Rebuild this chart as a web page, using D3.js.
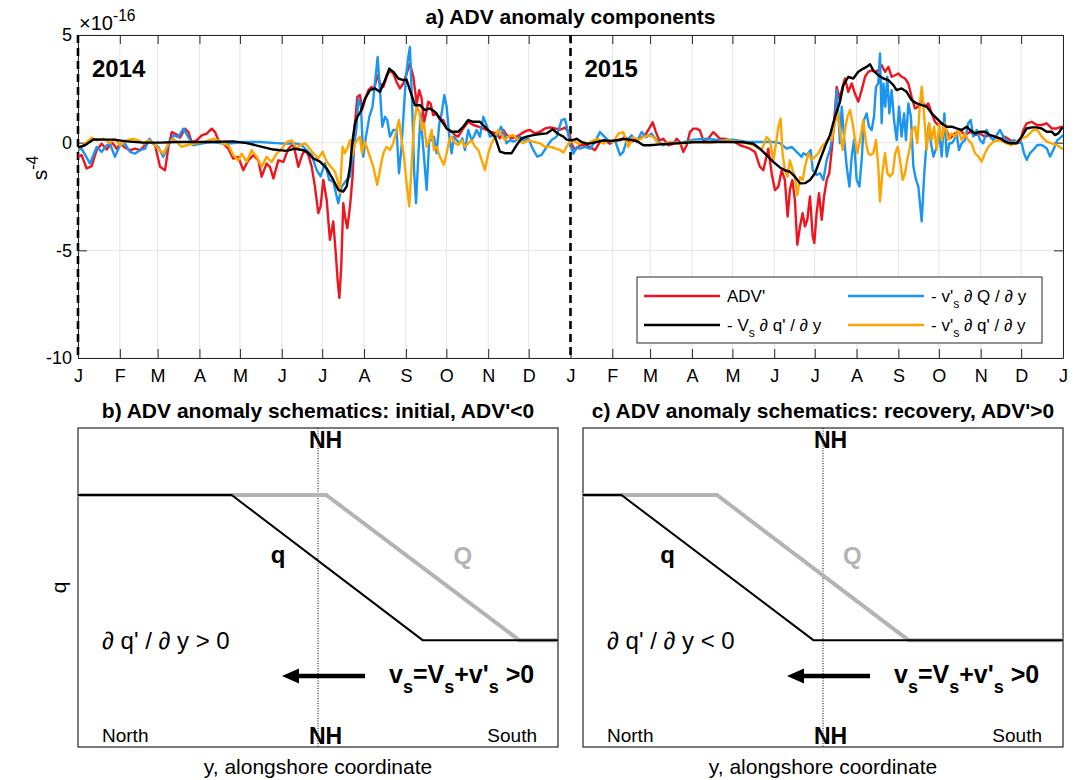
<!DOCTYPE html>
<html>
<head>
<meta charset="utf-8">
<script src="https://d3js.org/d3.v7.min.js"></script>
<style>
  body { margin: 0; background: #fff; }
  svg text { font-family: "Liberation Sans", Arial, Helvetica, sans-serif; fill: #000; white-space: pre; }
</style>
</head>
<body>
<div id="fig"></div>
<script>
// ---- data: [day since 1 Jan 2014, value in 1e-16 s^-4] ----
var advPrime = [[0,-0.66],[2.7,-0.58],[6.4,-1.2],[10.1,-1.09],[13.8,-0.35],[17.5,-0.05],[21.3,-0.32],[25,0.03],[28.7,-0.28],[31.2,-0.05],[34.9,-0.23],[38.6,-0.35],[42.3,-0.28],[46,-0.35],[49.7,-0.12],[53.4,0.11],[57.1,-0.12],[60.8,-1.12],[64.5,-1.28],[67,-0.2],[69.5,0.49],[73.2,0.38],[75.6,0.23],[79.3,0.65],[81.8,0.49],[84.3,0.03],[88,0.11],[91.7,0.34],[95.4,0.42],[99.1,0.65],[101.6,0.49],[104,0.11],[107.7,-0.05],[111.4,-0.28],[115.1,-0.74],[118.8,-0.66],[122.5,-1.28],[126.2,-0.82],[130,-0.58],[133.7,-0.82],[136.1,-1.58],[139.8,-0.97],[142.3,-1.12],[144.8,-1.66],[148.5,-0.82],[152.2,-0.89],[155.9,-0.28],[159.6,-0.05],[163.3,-1.12],[166.2,-0.55],[168.2,-0.34],[170.7,-0.57],[173.2,-1.11],[175.6,-2.04],[178.1,-3.27],[179.8,-2.96],[181.8,-1.73],[184.3,-2.65],[186.7,-4.51],[189.2,-3.66],[191.2,-5.28],[192.4,-6.36],[193.7,-7.21],[195.1,-5.74],[196.6,-2.81],[197.9,-3.43],[199.6,-3.97],[201.6,-2.96],[203.5,-1.57],[205.3,0.9],[207,2.13],[209,2.21],[210.5,1.51],[212.7,1.98],[215.2,2.44],[217.6,2.59],[219.3,2.44],[221.8,3.13],[223.8,2.75],[226.3,2.59],[228.7,3.06],[231.2,3.36],[233.7,3.21],[236.1,2.82],[238.6,2.52],[241.1,2.75],[243.5,3.21],[246,3.67],[248.5,3.06],[251,1.82],[252.9,2.44],[254.7,2.05],[256.4,0.9],[258.4,1.51],[259.6,1.9],[261.3,1.82],[263.3,1.28],[265.8,1.36],[268.2,1.05],[270.7,1.05],[273.2,0.66],[276.9,0.51],[279.4,0.35],[281.8,0.28],[285.5,0.66],[289.2,0.97],[293,0.82],[296.7,0.74],[300.4,0.66],[305.3,0.51],[310.3,0.43],[312.7,0.2],[315.2,0.59],[317.7,0.35],[321.4,0.2],[325.1,0.28],[328.8,0.43],[332.5,0.56],[335,0.59],[338.7,0.43],[342.4,0.51],[346.1,0.66],[349.8,0.71],[353.5,0.66],[357.2,0.6],[360.9,0.7],[364.1,0.45],[365.8,-0.05],[368.3,-0.35],[372,-0.12],[375.7,-0.12],[379.4,-0.2],[383.1,-0.35],[386.8,0.03],[390.5,0.11],[394.2,-0.05],[398,0.11],[401.7,0.11],[405.4,0.26],[409.1,0.03],[412.8,0.11],[416.5,0.18],[420.2,0.34],[423.9,0.72],[425.9,0.95],[428.3,0.49],[430.8,0.11],[433.8,0.18],[437.5,-0.12],[441.2,-0.05],[443.7,0.18],[446.1,0.03],[448.6,-0.43],[451.1,-0.12],[453.5,0.49],[456,0.65],[458.5,0.65],[460.9,0.57],[463.4,0.11],[467.1,0.18],[470.8,0.49],[473.3,0.34],[475.8,0.18],[479.5,0.18],[483.2,0.11],[486.9,0.03],[490.6,-0.12],[494.3,-0.2],[498,-0.28],[501.7,-0.43],[505.4,-1.12],[507.9,-1.28],[509.9,-0.74],[511.6,-0.28],[514.1,-1.43],[516.5,-2.2],[519,-2.05],[521.5,-1.28],[523.9,-1.74],[525.9,-3.43],[527.6,-2.2],[529.4,-1.74],[531.3,-2.66],[533.1,-4.74],[535.1,-3.89],[537,-3.28],[538.8,-3.89],[540.5,-3.58],[542.5,-2.5],[544.5,-4.35],[545.7,-4.66],[547.4,-3.27],[549.2,-2.35],[551.2,-3.58],[552.9,-2.5],[554.9,-1.73],[556.8,-1.42],[558.6,-0.34],[560.3,0.9],[562.3,2.59],[564.2,2.05],[566,2.44],[568.4,2.98],[570.9,2.36],[573.4,2.75],[575.8,2.28],[578.3,1.9],[580.8,2.44],[583.3,3.06],[585.7,3.29],[588.2,3.36],[590.7,3.29],[593.1,3.36],[595.6,3.6],[598.1,3.29],[600.6,3.52],[603,3.06],[605.5,3.13],[608,3.21],[610.4,3.06],[612.9,2.98],[615.4,2.75],[617.8,2.13],[620.3,1.59],[622.8,1.67],[625.3,1.98],[627.7,1.67],[630.2,1.82],[632.7,1.36],[635.1,0.97],[637.6,0.82],[640.1,0.9],[642.5,0.74],[646.3,0.2],[650,0.43],[653.7,0.59],[657.4,0.35],[661.1,0.51],[664.8,0.35],[668.5,0.43],[672.2,0.28],[675.9,0.35],[679.6,0.28],[683.3,0.12],[687,0.28],[690.7,0.12],[694.4,-0.03],[698.1,0],[700.6,0.59],[703.1,0.9],[706.8,0.97],[710.5,0.82],[714.2,0.82],[717.9,0.9],[721.6,0.66],[725.3,0.66],[729,0.74],[730,0.7]];

// - Vs dq'/dy
var meanAdv = [[0,-0.23],[5.2,-0.12],[11.4,0.15],[18.8,0.14],[26.2,0.14],[36.1,0.06],[48.4,0],[60.8,0],[73.2,0.03],[85.5,0.03],[97.8,0.03],[115.1,0.06],[125,-0.02],[134.9,-0.17],[144.8,-0.32],[154.6,-0.38],[160.8,-0.28],[167,-0.35],[169.4,-0.42],[174.4,-0.73],[179.3,-0.88],[184.3,-1.19],[189.2,-1.73],[192.9,-2.19],[196.6,-2.27],[199.1,-2.04],[201.6,-1.11],[203.5,0.12],[205.3,0.9],[207,1.2],[209.5,1.44],[212.7,2.05],[216.4,2.44],[220.1,2.52],[223.8,2.36],[227.5,2.9],[230.7,3.44],[233.7,3.29],[237.4,2.98],[241.1,2.9],[243.5,2.93],[246,2.44],[249.7,1.74],[253.4,1.74],[257.1,1.51],[260.8,1.59],[264.5,1.44],[268.2,1.13],[273.2,0.66],[276.9,0.51],[281.8,0.51],[285.5,0.74],[289.2,1.05],[293,0.97],[297.9,0.97],[301.6,0.74],[305.3,0.51],[309,0.28],[312.7,-0.42],[316.4,-0.49],[321.4,-0.49],[325.1,-0.11],[328.8,0.2],[332.5,0.28],[337.4,0.35],[342.4,0.4],[347.3,0.43],[351.7,0.62],[356,0.4],[359.7,0.28],[362.1,0.14],[365.8,0.11],[369.5,0.18],[373.3,0.03],[377,-0.05],[380.7,-0.02],[384.4,0.03],[389.3,0.11],[394.2,0.08],[399.2,0.11],[404.1,0.17],[409.1,0.14],[414,0.08],[419,-0.12],[423.9,-0.12],[431.3,-0.08],[438.7,-0.05],[446.1,-0.02],[456,0.02],[468.4,0.03],[480.7,0.03],[493.1,0.02],[500.5,-0.05],[505.4,-0.28],[510.3,-0.58],[515.3,-0.89],[520.2,-1.15],[523.9,-1.28],[527.6,-1.35],[531.3,-1.58],[535.1,-1.89],[538.8,-1.88],[542.5,-1.73],[546.2,-1.42],[549.9,-0.8],[553.6,-0.19],[557.3,0.35],[561,1.2],[564.7,1.9],[567.2,2.67],[570.9,3.06],[574.6,2.98],[578.3,3.29],[582,3.44],[584.5,3.52],[587,3.64],[589.4,3.36],[593.1,3.13],[596.9,2.98],[600.6,2.9],[604.3,2.67],[606.7,2.44],[610.4,2.52],[614.1,2.36],[617.8,1.98],[621.6,1.82],[625.3,1.74],[629,1.67],[632.7,1.36],[636.4,1.13],[640.1,0.9],[643.8,0.74],[647.5,0.74],[651.2,0.66],[654.9,0.59],[658.6,0.74],[661.1,0.59],[664.8,0.43],[668.5,0.51],[672.2,0.51],[675.9,0.35],[679.6,0.28],[683.3,0.2],[687,0.05],[690.7,-0.03],[695.7,-0.03],[699.4,0.28],[703.1,0.66],[706.8,0.71],[710.5,0.71],[714.2,0.66],[717.9,0.51],[721.6,0.51],[724.1,0.35],[726.5,0.43],[729,0.66],[730,0.7]];

// - v's dQ/dy
var anomQ = [[0,-0.35],[2.7,-0.28],[8.9,-0.97],[13.8,-0.2],[17.5,-0.43],[21.3,-0.12],[23.7,-0.05],[27.4,-0.66],[31.1,-0.12],[34.8,-0.05],[38.5,-0.43],[42.2,-0.51],[46,-0.35],[49.7,-0.28],[52.9,0.18],[55.8,-0.05],[59.5,-0.2],[63.2,-0.66],[67,-0.12],[70.7,0.34],[74.4,0.26],[78.1,0.65],[81.8,0.26],[85.5,-0.12],[90.4,-0.05],[97.8,0.03],[110.2,-0.05],[122.5,0.03],[134.9,0.03],[147.2,-0.02],[154.6,-0.05],[159.6,-0.02],[164.5,-0.08],[167,-0.19],[169.4,-0.34],[173.1,-0.57],[176.9,-1.27],[179.8,-1.57],[183,-0.96],[186.2,-1.73],[189.2,-1.81],[192.9,-2.81],[195.4,-2.04],[199.1,-1.73],[201.6,-1.57],[204,-0.49],[206.5,0.74],[207.7,2.05],[209.7,1.67],[211.4,-0.65],[213.4,0.28],[215.9,1.2],[218.3,1.67],[220.3,2.9],[222.1,3.98],[223.8,2.44],[225.5,0.74],[227.5,1.2],[229.2,1.05],[231.2,0.28],[233.7,0.59],[236.1,0.59],[237.9,-1.42],[239.8,-0.19],[241.6,1.67],[243.1,3.06],[244.8,3.98],[246,4.44],[247.7,1.67],[249.2,-1.42],[250.5,-2.81],[252.2,-0.65],[253.9,1.36],[255.4,0.12],[256.6,-0.8],[258.4,-2.19],[260.3,0.12],[262.1,0.12],[263.8,0.28],[265.8,-0.49],[267.8,0.9],[269.5,1.36],[271.5,2.21],[273.2,1.67],[275.2,0.28],[276.9,-0.49],[278.6,0.28],[280.6,0.12],[282.6,-0.03],[284.8,0.2],[286.8,-0.34],[289.2,0.59],[291.7,0.12],[293.4,0.28],[295.4,0.59],[297.9,0.28],[300.4,1.2],[302.8,0.82],[305.3,0.28],[307.8,0.35],[310.2,0.28],[313.5,0.74],[315.7,0.43],[317.6,-0.03],[320.1,0.12],[322.6,0.05],[325.1,0.12],[327.5,0.28],[330,0.12],[333.7,0.2],[337.4,-0.34],[340.4,-0.65],[343.6,-0.57],[347.3,-0.19],[351,0.12],[354.7,0.28],[358.4,1.05],[360.9,1.1],[362.1,0.8],[364.6,-0.05],[367.1,-0.51],[369.6,-0.2],[372,-0.28],[375.7,-0.2],[379.4,-0.28],[383.1,0.03],[386.8,0.49],[390.5,0.26],[394.3,0.03],[398,0.11],[401.7,-0.58],[404.1,-0.43],[406.6,0.11],[410.3,0.34],[414,0.03],[417.7,0.49],[421.4,0.26],[425.1,0.42],[428.8,0.11],[433.8,-0.12],[438.7,0.03],[446.1,-0.02],[456,0.14],[465.9,0.18],[475.8,0.11],[485.6,0.14],[495.5,0.03],[505.4,0.03],[515.3,0.03],[520.2,-0.02],[525.2,-0.28],[528.9,-0.2],[532.6,-0.43],[536.3,-0.66],[537.6,-0.49],[540,-0.57],[543,-0.34],[544.5,-1.27],[547.4,-1.5],[549.9,-1.42],[552.4,-1.73],[554.9,-0.8],[557.3,-0.34],[559.1,0.28],[560.8,0.9],[562.3,2.44],[563.5,1.36],[564.7,-0.03],[566,1.67],[567.7,0.28],[569.7,-1.11],[571.7,-2.04],[573.4,-0.65],[575.1,0.12],[577.1,-1.73],[579.1,-2.04],[580.8,-0.8],[582.5,1.05],[584.5,1.36],[586.2,0.74],[588.2,0.59],[589.9,1.2],[591.4,2.59],[593.1,2.75],[594.4,4.14],[595.6,0.9],[596.9,2.75],[598.3,1.67],[599.8,3.06],[601.3,1.36],[603,2.44],[604.8,1.05],[606.7,0.12],[608.5,1.67],[610.4,0.28],[612.2,1.36],[613.6,0.12],[615.4,1.82],[617.3,1.2],[619.1,-1.11],[621.1,-1.73],[622.8,-2.04],[625.3,-3.66],[627.2,-1.42],[629,0.12],[630.7,0.9],[632.2,-0.03],[633.9,-0.65],[636.4,-0.19],[638.3,0.43],[640.1,-0.65],[642.1,1.36],[643.8,-0.65],[645.8,-0.03],[647.5,-0.03],[649.2,0.12],[651.2,0.43],[652.9,-0.34],[654.9,-0.03],[657.4,0.12],[659.8,0.9],[661.6,1.05],[663.5,0.28],[666,0.59],[668.5,0.12],[670.9,-0.03],[673.4,0.59],[675.9,0.28],[678.4,0.12],[680.8,0.35],[683.3,0.59],[685.8,0.28],[688.2,0.12],[690.7,-0.03],[693.2,0.12],[696.9,0.05],[699.4,-0.03],[701.1,-0.49],[703.1,-0.8],[705.5,-0.49],[708,-0.34],[711,-0.11],[714.2,-0.11],[717.9,-0.26],[720.4,-0.65],[722.8,-0.34],[725.8,0.12],[729,0.28],[730,0.35]];

// - v's dq'/dy
var anomq = [[0,-0.28],[4,-0.12],[10.1,0.23],[13.8,0.11],[18.8,0.18],[23.7,-0.02],[27.4,0.18],[31.1,-0.12],[36.1,0.11],[41,0.18],[44.7,0.11],[48.4,-0.05],[52.1,0.11],[55.8,-0.02],[59.5,-0.28],[63.2,-0.51],[67,-0.05],[70.7,0.18],[74.4,-0.05],[76.8,-0.2],[80.5,-0.12],[85.5,-0.05],[92.9,0.03],[100.3,0.18],[104,0.11],[107.7,-0.05],[111.4,-0.12],[115.1,-0.58],[118.8,-0.82],[121.3,-0.51],[125,-0.89],[128.7,-0.35],[132.4,-0.66],[136.1,-1.12],[139.8,-0.66],[143.5,-0.89],[147.2,-0.51],[151,-0.28],[154.7,0.03],[158.4,0.11],[162,-0.28],[165,-0.1],[168.2,-0.03],[170.7,-0.19],[174.4,-0.49],[178.1,-0.73],[181.3,-0.42],[184.3,-0.88],[187.2,-1.11],[190.4,-1.34],[192.9,-1.88],[194.1,-2.35],[196.1,-0.19],[197.8,-0.49],[199.6,-0.26],[201.6,0.12],[203.5,-0.57],[205.3,-0.03],[207,0.12],[209,0.28],[210.4,-0.49],[212.2,0.05],[213.9,-0.19],[216.4,-0.65],[218.8,-1.11],[221.8,-1.96],[223.8,-1.27],[226.3,-0.49],[228.7,-0.19],[231.2,-0.34],[233.7,-0.03],[236.1,0.59],[237.9,1.05],[239.8,0.12],[241.6,-0.65],[243.5,-1.88],[245.5,-2.96],[247.2,-1.11],[249,0.9],[251,1.67],[252.9,1.44],[254.7,0.59],[256.4,0.9],[258.4,-0.19],[260.3,0.12],[262.1,0.59],[263.8,-0.34],[265.8,-0.19],[268.2,-0.65],[271.2,-1.03],[273.2,-0.49],[275.2,0.12],[276.9,0.28],[279.4,-0.03],[281.8,-0.11],[284.3,0.12],[286.8,-0.19],[289.2,-0.03],[291.7,0.12],[294.2,-0.19],[296.7,-0.34],[299.1,-0.8],[301.6,-1.27],[304.1,-0.49],[306.5,-0.03],[309,0.28],[311.5,0.59],[314,0.35],[316.4,0.12],[318.9,0.28],[322.6,0.35],[326.3,0.12],[330,-0.03],[333.7,0.12],[337.4,0.05],[342.4,-0.03],[346.1,-0.19],[349.8,-0.19],[353.5,-0.26],[357.2,-0.34],[359.7,-0.46],[362.1,-0.19],[363.4,-0.05],[367.1,0.11],[370.8,-0.05],[374.5,0.03],[378.2,-0.05],[381.9,0.11],[385.6,0.18],[389.3,-0.05],[393,0.11],[396.7,0.03],[400.4,0.42],[404.1,0.49],[407.8,-0.2],[411.5,0.26],[415.3,0.11],[419,0.26],[422.7,0.34],[426.4,0.26],[430.1,-0.05],[433.8,-0.05],[438.7,0.03],[446.1,-0.05],[456,0.06],[468.4,-0.02],[480.7,0.11],[490.6,0.03],[498,-0.05],[502.9,-0.2],[506.6,-0.35],[510.3,0.26],[512.8,0.11],[515.3,-0.82],[517.3,-0.05],[519,0.72],[520.7,1.11],[522.2,-0.51],[523.9,-1.28],[525.9,-1.58],[527.6,-0.82],[529.6,-1.28],[531.3,-1.58],[533.1,-2.43],[535.1,-1.6],[537.1,-1.73],[538.8,-1.11],[541.3,-0.49],[543.7,-0.8],[546.2,-0.65],[548.7,-0.49],[551.2,-0.19],[553.6,-0.03],[556.1,0.2],[558.6,0.12],[561,0.9],[562.8,1.51],[564.7,0.59],[566.7,-0.34],[568.4,0.59],[570.2,1.2],[572.2,1.51],[574.1,0.9],[575.9,0.12],[577.6,-0.49],[579.6,0.12],[582,1.05],[584,-0.03],[585.7,-0.49],[587.5,-0.57],[589.4,-0.49],[591.4,0.12],[593.1,-1.11],[594.4,-2.73],[596.1,-1.42],[598.1,-0.49],[599.8,-1.42],[601.8,-1.57],[603.8,-1.42],[605.7,-0.49],[607.5,-0.19],[609.2,-0.8],[611.2,-1.73],[612.9,-1.42],[614.6,-0.8],[616.6,-0.19],[618.3,0.59],[620.3,0.74],[622,-0.03],[624,1.82],[625.3,2.59],[627,1.36],[629,-0.34],[630.9,0.9],[632.7,0.12],[634.4,0.74],[636.4,-0.34],[638.3,0.9],[640.1,0.12],[642.5,0.9],[645,0.12],[647.5,0.43],[650,0.28],[652.4,0.59],[654.9,0.12],[657.4,0.43],[659.8,0.12],[662.3,-0.03],[664.8,-0.49],[667.3,-0.65],[669.7,-0.88],[672.2,-0.49],[674.7,-0.19],[678.4,0.05],[683.3,0.12],[688.2,-0.03],[691.9,-0.11],[695.7,0.05],[699.4,0.2],[703.1,0.28],[705.5,0.43],[708,0.59],[711,0.59],[714.2,0.28],[717.9,0.05],[721.6,-0.03],[725.3,-0.11],[729,-0.26],[730,-0.3]];

var monthLetters = ["J","F","M","A","M","J","J","A","S","O","N","D"];
var yTicks = [-10, -5, 0, 5];
var yearStarts = [0, 365];          // day offsets of the dashed year lines
var yearLabels = ["2014", "2015"];

// schematic profiles (x as fraction of the alongshore axis)
var qLevels = [0.79, 0.79, 0.335, 0.335];   // high, high, low, low
var qInitialX  = [0, 0.32, 0.718, 1];
var QInitialX  = [0, 0.517, 0.919, 1];
var qRecoverX  = [0, 0.08, 0.48, 1];
var QRecoverX  = [0, 0.279, 0.678, 1];

// ---- set up ----
var svgWidth = 1080, svgHeight = 780;
var axisColor = "#262626";

var svg = d3.select("#fig").append("svg")
    .attr("width", svgWidth)
    .attr("height", svgHeight);
svg.append("rect").attr("width", svgWidth).attr("height", svgHeight).attr("fill", "#fff");

// text with sub/superscripts: parts = [[text, "sub"|"sup"|null], ...]
function addRich(textSel, parts, size, small) {
    var off = 0;
    small = small || 0.72;
    parts.forEach(function(p) {
        var target = p[1] === "sub" ? size * 0.38 : (p[1] === "sup" ? -size * 0.45 : 0);
        textSel.append("tspan")
            .attr("dy", target - off)
            .attr("font-size", p[1] ? size * small : size)
            .text(p[0]);
        off = target;
    });
    return textSel;
}

// ================= panel a =================
var a = { left: 78, right: 1063, top: 35, bottom: 358 };
var t0 = Date.UTC(2014, 0, 1);
function toDate(d) { return new Date(t0 + d * 864e5); }

var xScale = d3.scaleUtc().domain([toDate(0), toDate(730)]).range([a.left, a.right]);
var yScale = d3.scaleLinear().domain([-10, 5]).range([a.bottom, a.top]);
var months = d3.utcMonth.range(toDate(0), toDate(731));

var chartGroup = svg.append("g");

// grid
chartGroup.append("g").selectAll("line")
    .data(months)
    .enter().append("line")
    .attr("x1", d => xScale(d)).attr("x2", d => xScale(d))
    .attr("y1", a.top).attr("y2", a.bottom)
    .attr("stroke", "#e4e4e4").attr("stroke-width", 1);
chartGroup.append("g").selectAll("line")
    .data(yTicks)
    .enter().append("line")
    .attr("x1", a.left).attr("x2", a.right)
    .attr("y1", d => yScale(d)).attr("y2", d => yScale(d))
    .attr("stroke", "#e4e4e4").attr("stroke-width", 1);

// axes (ticks inward, box on)
var xAxis = d3.axisBottom(xScale).tickValues(months).tickSize(-9).tickSizeOuter(0).tickPadding(11)
    .tickFormat(d => monthLetters[d.getUTCMonth()]);
var gx = chartGroup.append("g").attr("transform", `translate(0, ${a.bottom})`).call(xAxis);
var gxTop = chartGroup.append("g").attr("transform", `translate(0, ${a.top})`)
    .call(d3.axisTop(xScale).tickValues(months).tickSize(-9).tickSizeOuter(0).tickFormat(""));
var yAxis = d3.axisLeft(yScale).tickValues(yTicks).tickSize(-9).tickSizeOuter(0).tickPadding(6)
    .tickFormat(d => String(d));
var gy = chartGroup.append("g").attr("transform", `translate(${a.left}, 0)`).call(yAxis);
var gyRight = chartGroup.append("g").attr("transform", `translate(${a.right}, 0)`)
    .call(d3.axisRight(yScale).tickValues(yTicks).tickSize(-9).tickSizeOuter(0).tickFormat(""));

[gx, gxTop, gy, gyRight].forEach(function(g) {
    g.selectAll("path, line").attr("stroke", axisColor).attr("stroke-width", 1);
    g.selectAll("text").attr("font-size", 18).attr("fill", "#000")
        .style("font-family", '"Liberation Sans", Arial, sans-serif');
});

// dashed year lines
chartGroup.append("g").selectAll("line")
    .data(yearStarts)
    .enter().append("line")
    .attr("x1", d => xScale(toDate(d))).attr("x2", d => xScale(toDate(d)))
    .attr("y1", a.top).attr("y2", a.bottom)
    .attr("stroke", "#000").attr("stroke-width", 2.6)
    .attr("stroke-dasharray", "8,5");

// series
svg.append("clipPath").attr("id", "clipA").append("rect")
    .attr("x", a.left).attr("y", a.top)
    .attr("width", a.right - a.left).attr("height", a.bottom - a.top);

var line = d3.line()
    .x(d => xScale(toDate(d[0])))
    .y(d => yScale(d[1]));

var series = [
    { data: advPrime, color: "#f0141e" },
    { data: anomQ, color: "#1a96f0" },
    { data: anomq, color: "#ffa500" },
    { data: meanAdv, color: "#000000" }
];
chartGroup.append("g").attr("clip-path", "url(#clipA)")
    .selectAll("path")
    .data(series)
    .enter().append("path")
    .attr("d", d => line(d.data))
    .attr("fill", "none")
    .attr("stroke", d => d.color)
    .attr("stroke-width", 2.4)
    .attr("stroke-linejoin", "round");

// year labels
chartGroup.selectAll("text.year")
    .data(yearLabels)
    .enter().append("text")
    .attr("class", "year")
    .attr("x", (d, i) => xScale(toDate(yearStarts[i])) + 14)
    .attr("y", 77)
    .attr("font-size", 24).attr("font-weight", "bold")
    .text(d => d);

// title, exponent, y label
svg.append("text")
    .attr("x", (a.left + a.right) / 2).attr("y", 24)
    .attr("text-anchor", "middle")
    .attr("font-size", 21).attr("font-weight", "bold")
    .text("a) ADV anomaly components");

addRich(svg.append("text").attr("x", 79).attr("y", 30), [["×10", null], ["-16", "sup"]], 20, 0.78);

addRich(svg.append("text")
    .attr("transform", "translate(47, 168) rotate(-90)")
    .attr("text-anchor", "middle"), [["s", null], ["-4", "sup"]], 21, 0.75);

// legend
var legend = svg.append("g");
legend.append("rect")
    .attr("x", 637).attr("y", 277).attr("width", 405).attr("height", 66)
    .attr("fill", "#fff").attr("stroke", axisColor).attr("stroke-width", 1);
var legendItems = [
    { color: "#f0141e", x: 644, y: 296, parts: [["ADV'", null]] },
    { color: "#000000", x: 644, y: 325, parts: [["- V", null], ["s", "sub"], [" ∂ q' / ∂ y", null]] },
    { color: "#1a96f0", x: 848, y: 296, parts: [["- v'", null], ["s", "sub"], [" ∂ Q / ∂ y", null]] },
    { color: "#ffa500", x: 848, y: 325, parts: [["- v'", null], ["s", "sub"], [" ∂ q' / ∂ y", null]] }
];
legendItems.forEach(function(it) {
    legend.append("line")
        .attr("x1", it.x).attr("x2", it.x + 76)
        .attr("y1", it.y).attr("y2", it.y)
        .attr("stroke", it.color).attr("stroke-width", 2.4);
    addRich(legend.append("text").attr("x", it.x + 83).attr("y", it.y + 6), it.parts, 17);
});

// ================= panels b, c =================
var boxTop = 428, boxBottom = 747, boxW = 480;
var panels = [
    { x0: 78, title: "b) ADV anomaly schematics: initial, ADV'<0", qX: qInitialX, QX: QInitialX,
      grad: "∂ q' / ∂ y > 0", qLab: 0.417, QLab: 0.802, ylabel: true },
    { x0: 583, title: "c) ADV anomaly schematics: recovery, ADV'>0", qX: qRecoverX, QX: QRecoverX,
      grad: "∂ q' / ∂ y < 0", qLab: 0.176, QLab: 0.561, ylabel: false }
];

panels.forEach(function(p) {
    var sx = d3.scaleLinear().domain([0, 1]).range([p.x0, p.x0 + boxW]);
    var sy = d3.scaleLinear().domain([0, 1]).range([boxBottom, boxTop]);
    var g = svg.append("g");
    var prof = d3.line().x(d => sx(d[0])).y(d => sy(d[1]));

    g.append("text")
        .attr("x", sx(0.5)).attr("y", boxTop - 10)
        .attr("text-anchor", "middle")
        .attr("font-size", 21).attr("font-weight", "bold")
        .text(p.title);

    g.append("rect")
        .attr("x", sx(0)).attr("y", boxTop)
        .attr("width", boxW).attr("height", boxBottom - boxTop)
        .attr("fill", "#fff").attr("stroke", axisColor).attr("stroke-width", 1.2);

    // NH reference line
    g.append("line")
        .attr("x1", sx(0.5)).attr("x2", sx(0.5))
        .attr("y1", boxTop).attr("y2", boxBottom)
        .attr("stroke", "#000").attr("stroke-width", 1)
        .attr("stroke-dasharray", "1,1.5");

    // Q (grey) under q (black)
    g.append("path")
        .attr("d", prof(p.QX.map((x, i) => [x, qLevels[i]])))
        .attr("fill", "none").attr("stroke", "#b4b4b4").attr("stroke-width", 4);
    g.append("path")
        .attr("d", prof(p.qX.map((x, i) => [x, qLevels[i]])))
        .attr("fill", "none").attr("stroke", "#000").attr("stroke-width", 2);

    ["NH", "NH"].forEach(function(t, i) {
        g.append("text")
            .attr("x", sx(0.5) - 9).attr("y", i === 0 ? 448 : 744)
            .attr("font-size", 23).attr("font-weight", "bold")
            .text(t);
    });

    g.append("text").attr("x", sx(p.qLab)).attr("y", 563)
        .attr("text-anchor", "middle").attr("font-size", 24).attr("font-weight", "bold")
        .text("q");
    g.append("text").attr("x", sx(p.QLab)).attr("y", 564)
        .attr("text-anchor", "middle").attr("font-size", 24).attr("font-weight", "bold")
        .attr("fill", "#b4b4b4").style("fill", "#b4b4b4")
        .text("Q");

    g.append("text").attr("x", sx(0.05)).attr("y", 649)
        .attr("font-size", 24)
        .text(p.grad);

    // arrow pointing north
    var ay = sy(0.2226), tip = sx(0.425), tail = sx(0.598);
    g.append("line")
        .attr("x1", tail).attr("x2", tip + 12)
        .attr("y1", ay).attr("y2", ay)
        .attr("stroke", "#000").attr("stroke-width", 4.5);
    g.append("path")
        .attr("d", `M${tip},${ay} L${tip + 17},${ay - 7.5} L${tip + 17},${ay + 7.5} Z`)
        .attr("fill", "#000");

    addRich(g.append("text").attr("x", sx(0.648)).attr("y", 683)
        .attr("font-weight", "bold"),
        [["v", null], ["s", "sub"], ["=V", null], ["s", "sub"], ["+v'", null], ["s", "sub"], [" >0", null]], 25);

    g.append("text").attr("x", sx(0.05)).attr("y", 742).attr("font-size", 19).text("North");
    g.append("text").attr("x", sx(1) - 21).attr("y", 742).attr("font-size", 19)
        .attr("text-anchor", "end").text("South");

    g.append("text").attr("x", sx(0.5)).attr("y", 774)
        .attr("text-anchor", "middle").attr("font-size", 21)
        .text("y, alongshore coordinate");

    if (p.ylabel) {
        g.append("text")
            .attr("transform", `translate(${sx(0) - 12}, ${(boxTop + boxBottom) / 2}) rotate(-90)`)
            .attr("text-anchor", "middle").attr("font-size", 21)
            .text("q");
    }
});
</script>
</body>
</html>
